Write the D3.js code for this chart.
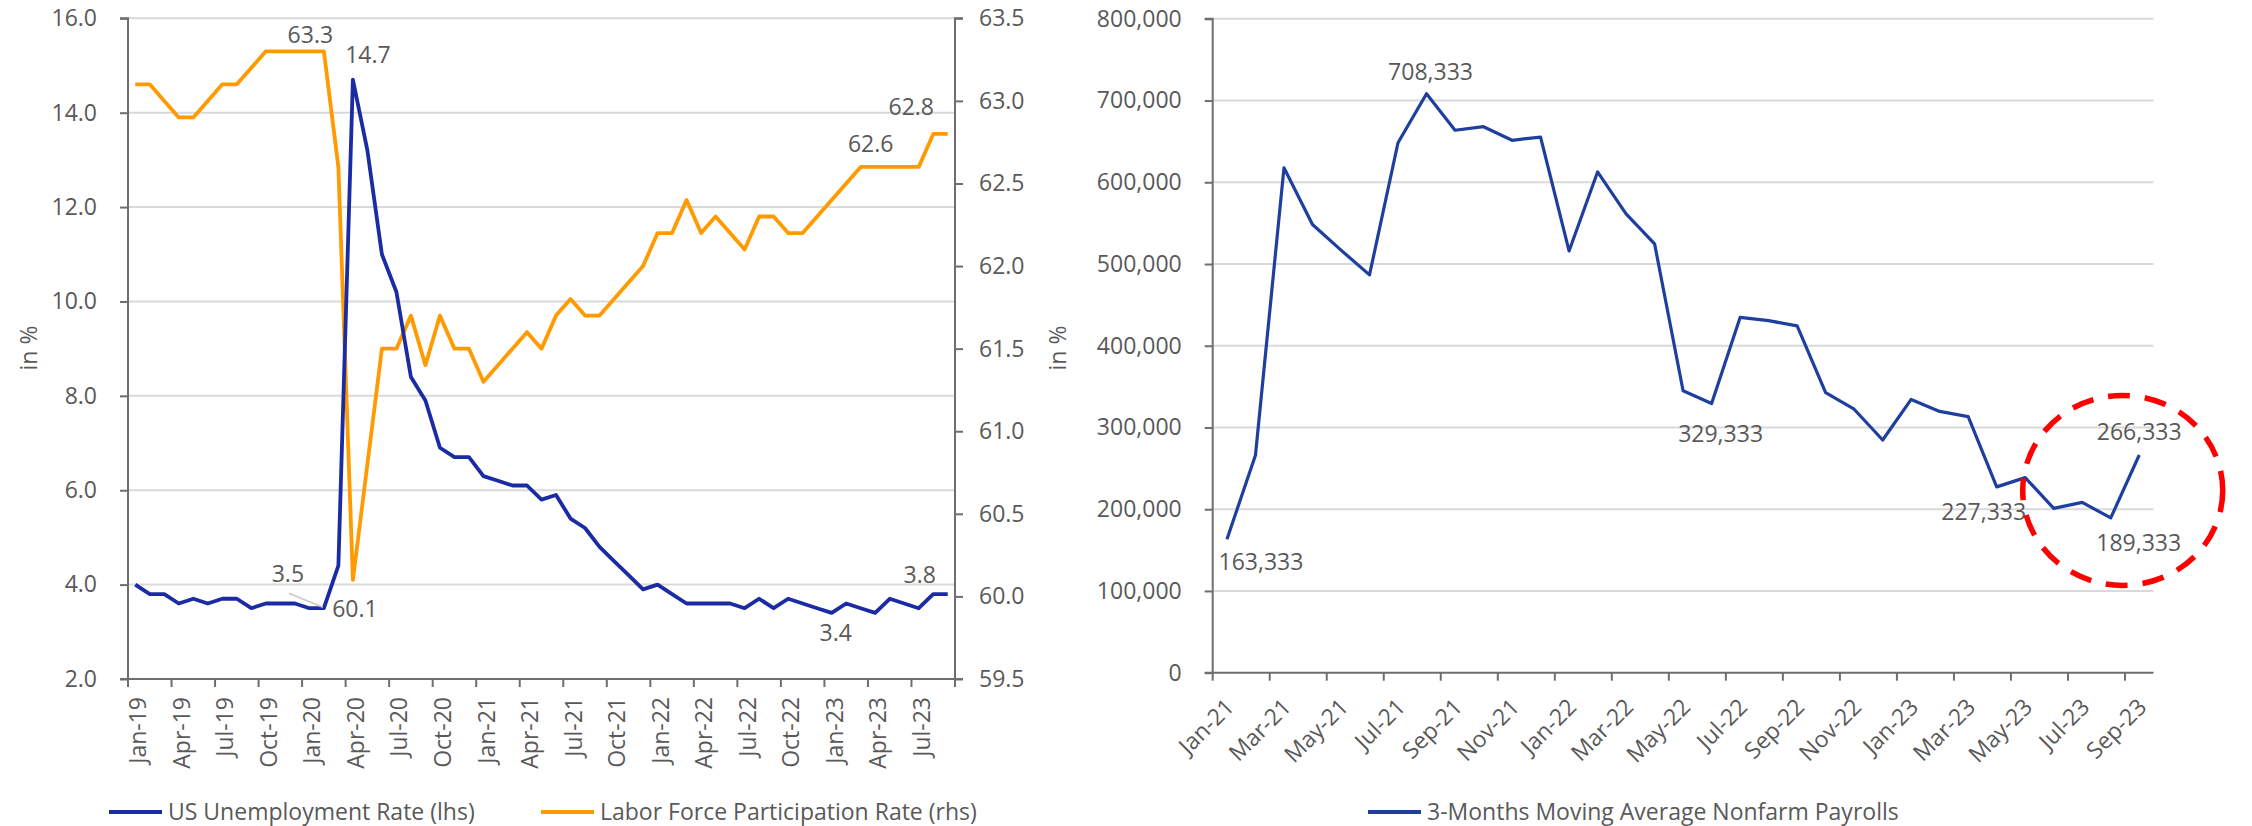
<!DOCTYPE html>
<html>
<head>
<meta charset="utf-8">
<script src="https://cdn.jsdelivr.net/npm/d3@7"></script>
<style>
  html, body { margin: 0; padding: 0; background: #fff; }
  svg { display: block; font-family: "Open Sans", "Noto Sans", sans-serif; }
  text { fill: #595959; }
</style>
</head>
<body>
<svg id="chart" width="2252" height="826"></svg>
<script>
// ---------- DATA ----------
const monthsLeft = [
  "Jan-19","Feb-19","Mar-19","Apr-19","May-19","Jun-19","Jul-19","Aug-19","Sep-19","Oct-19","Nov-19","Dec-19",
  "Jan-20","Feb-20","Mar-20","Apr-20","May-20","Jun-20","Jul-20","Aug-20","Sep-20","Oct-20","Nov-20","Dec-20",
  "Jan-21","Feb-21","Mar-21","Apr-21","May-21","Jun-21","Jul-21","Aug-21","Sep-21","Oct-21","Nov-21","Dec-21",
  "Jan-22","Feb-22","Mar-22","Apr-22","May-22","Jun-22","Jul-22","Aug-22","Sep-22","Oct-22","Nov-22","Dec-22",
  "Jan-23","Feb-23","Mar-23","Apr-23","May-23","Jun-23","Jul-23","Aug-23","Sep-23"
];
const unemployment = [
  4.0,3.8,3.8,3.6,3.7,3.6,3.7,3.7,3.5,3.6,3.6,3.6,
  3.5,3.5,4.4,14.7,13.2,11.0,10.2,8.4,7.9,6.9,6.7,6.7,
  6.3,6.2,6.1,6.1,5.8,5.9,5.4,5.2,4.8,4.5,4.2,3.9,
  4.0,3.8,3.6,3.6,3.6,3.6,3.5,3.7,3.5,3.7,3.6,3.5,
  3.4,3.6,3.5,3.4,3.7,3.6,3.5,3.8,3.8
];
const participation = [
  63.1,63.1,63.0,62.9,62.9,63.0,63.1,63.1,63.2,63.3,63.3,63.3,
  63.3,63.3,62.6,60.1,60.8,61.5,61.5,61.7,61.4,61.7,61.5,61.5,
  61.3,61.4,61.5,61.6,61.5,61.7,61.8,61.7,61.7,61.8,61.9,62.0,
  62.2,62.2,62.4,62.2,62.3,62.2,62.1,62.3,62.3,62.2,62.2,62.3,
  62.4,62.5,62.6,62.6,62.6,62.6,62.6,62.8,62.8
];
const leftTicks = [2,4,6,8,10,12,14,16];
const rightTicks = [59.5,60.0,60.5,61.0,61.5,62.0,62.5,63.0,63.5];

const monthsRight = [
  "Jan-21","Feb-21","Mar-21","Apr-21","May-21","Jun-21","Jul-21","Aug-21","Sep-21","Oct-21","Nov-21","Dec-21",
  "Jan-22","Feb-22","Mar-22","Apr-22","May-22","Jun-22","Jul-22","Aug-22","Sep-22","Oct-22","Nov-22","Dec-22",
  "Jan-23","Feb-23","Mar-23","Apr-23","May-23","Jun-23","Jul-23","Aug-23","Sep-23"
];
const payrolls = [
  163333,266000,617667,548333,517000,486667,648333,708333,663667,668000,651333,655333,
  516000,612667,561333,524667,345000,329333,434667,430667,424333,342667,322333,284667,
  334333,319667,313333,227333,238667,201000,208333,189333,266333
];
const payrollTicks = [0,100000,200000,300000,400000,500000,600000,700000,800000];

const leftLegend = ["US Unemployment Rate (lhs)", "Labor Force Participation Rate (rhs)"];
const rightLegend = ["3-Months Moving Average Nonfarm Payrolls"];

// ---------- STYLE ----------
const C = {
  navy: "#1b2ba3", orange: "#ff9a00", blue2: "#1f3f9f",
  grid: "#d9d9d9", axis: "#6e6e6e", text: "#595959", red: "#ff0000"
};
const FS = 23;

const svg = d3.select("#chart");
svg.append("rect").attr("width", 2252).attr("height", 826).attr("fill", "#fff");

// ================= LEFT CHART =================
const L = { x0: 128, x1: 955, top: 18.3, bottom: 679 };
const xL = d3.scaleBand().domain(d3.range(monthsLeft.length)).range([L.x0, L.x1]).padding(0);
const cxL = i => xL(i) + xL.bandwidth() / 2;
const yL = d3.scaleLinear().domain([2, 16]).range([L.bottom, L.top]);
const yR = d3.scaleLinear().domain([59.5, 63.5]).range([L.bottom, L.top]);

const gL = svg.append("g");
gL.selectAll(".grid").data(leftTicks.slice(1)).join("line")
  .attr("x1", L.x0).attr("x2", L.x1)
  .attr("y1", d => yL(d)).attr("y2", d => yL(d))
  .attr("stroke", C.grid).attr("stroke-width", 2);

const axL = gL.append("g").attr("transform", `translate(${L.x0},0)`)
  .call(d3.axisLeft(yL).tickValues(leftTicks).tickSize(8).tickPadding(23).tickFormat(d3.format(".1f")));
const axR = gL.append("g").attr("transform", `translate(${L.x1},0)`)
  .call(d3.axisRight(yR).tickValues(rightTicks).tickSize(8).tickPadding(16).tickFormat(d3.format(".1f")));
[axL, axR].forEach(a => {
  a.select(".domain").attr("stroke", C.axis).attr("stroke-width", 2).attr("d",
    `M${a === axL ? -8 : 8},${L.top}H0V${L.bottom}H${a === axL ? -8 : 8}`);
  a.selectAll(".tick line").attr("stroke", C.axis).attr("stroke-width", 2);
  a.selectAll(".tick text").attr("font-size", FS).attr("fill", C.text).attr("font-family", "Open Sans");
});

gL.append("line").attr("x1", L.x0).attr("x2", L.x1).attr("y1", L.bottom).attr("y2", L.bottom)
  .attr("stroke", C.axis).attr("stroke-width", 2);
const tickIdxL = d3.range(0, monthsLeft.length + 1, 3);
gL.selectAll(".xt").data(tickIdxL).join("line")
  .attr("x1", d => d < monthsLeft.length ? xL(d) : L.x1).attr("x2", d => d < monthsLeft.length ? xL(d) : L.x1)
  .attr("y1", L.bottom).attr("y2", L.bottom + 8)
  .attr("stroke", C.axis).attr("stroke-width", 2);
gL.selectAll(".xl").data(d3.range(0, monthsLeft.length, 3)).join("text")
  .attr("transform", d => `translate(${cxL(d) + 3},${L.bottom + 18}) rotate(-90)`)
  .attr("text-anchor", "end").attr("dy", "0.35em")
  .attr("font-size", FS).text(d => monthsLeft[d]);

gL.append("path").datum(participation)
  .attr("d", d3.line().x((d, i) => cxL(i)).y(d => yR(d)))
  .attr("fill", "none").attr("stroke", C.orange).attr("stroke-width", 3.8).attr("stroke-linejoin", "round");
gL.append("path").datum(unemployment)
  .attr("d", d3.line().x((d, i) => cxL(i)).y(d => yL(d)))
  .attr("fill", "none").attr("stroke", C.navy).attr("stroke-width", 3.8).attr("stroke-linejoin", "round");

const leftLabels = [
  { i: 12, s: "p", dx: 1, dy: -8 },
  { i: 15, s: "u", dx: 15, dy: -17 },
  { i: 13, s: "u", dx: -36, dy: -26 },
  { i: 15, s: "p", dx: 2, dy: 37 },
  { i: 48, s: "u", dx: 4, dy: 28 },
  { i: 56, s: "u", dx: -28, dy: -11 },
  { i: 50, s: "p", dx: 10, dy: -15 },
  { i: 55, s: "p", dx: -22, dy: -19 }
];
gL.append("line")
  .attr("x1", cxL(13) - 35).attr("y1", yL(unemployment[13]) - 15)
  .attr("x2", cxL(13) - 1).attr("y2", yL(unemployment[13]) - 1)
  .attr("stroke", "#c8c8c8").attr("stroke-width", 1.5);
gL.selectAll(".dl").data(leftLabels).join("text")
  .attr("x", d => cxL(d.i) + d.dx)
  .attr("y", d => (d.s === "u" ? yL(unemployment[d.i]) : yR(participation[d.i])) + d.dy)
  .attr("text-anchor", "middle").attr("font-size", FS)
  .text(d => d.s === "u" ? d3.format(".1f")(unemployment[d.i]) : d3.format(".1f")(participation[d.i]));

gL.append("text").attr("transform", `translate(29,348) rotate(-90)`)
  .attr("text-anchor", "middle").attr("dy", "0.35em").attr("font-size", FS).text("in %");

const legL = [
  { x: 109, color: C.navy, label: leftLegend[0] },
  { x: 541, color: C.orange, label: leftLegend[1] }
];
legL.forEach(d => {
  gL.append("line").attr("x1", d.x).attr("x2", d.x + 53).attr("y1", 812).attr("y2", 812)
    .attr("stroke", d.color).attr("stroke-width", 4);
  gL.append("text").attr("x", d.x + 59).attr("y", 812).attr("dy", "0.35em")
    .attr("font-size", FS).text(d.label);
});

// ================= RIGHT CHART =================
const R = { x0: 1212.7, x1: 2153.5, top: 18.8, bottom: 672.7 };
const xP = d3.scaleBand().domain(d3.range(monthsRight.length)).range([R.x0, R.x1]).padding(0);
const cxP = i => xP(i) + xP.bandwidth() / 2;
const yP = d3.scaleLinear().domain([0, 800000]).range([R.bottom, R.top]);

const gR = svg.append("g");
gR.selectAll(".grid").data(payrollTicks.slice(1)).join("line")
  .attr("x1", R.x0).attr("x2", R.x1)
  .attr("y1", d => yP(d)).attr("y2", d => yP(d))
  .attr("stroke", C.grid).attr("stroke-width", 2);

const axP = gR.append("g").attr("transform", `translate(${R.x0},0)`)
  .call(d3.axisLeft(yP).tickValues(payrollTicks).tickSize(8).tickPadding(23).tickFormat(d3.format(",")));
axP.select(".domain").attr("stroke", C.axis).attr("stroke-width", 2).attr("d", `M-8,${R.top}H0V${R.bottom}H-8`);
axP.selectAll(".tick line").attr("stroke", C.axis).attr("stroke-width", 2);
axP.selectAll(".tick text").attr("font-size", FS).attr("fill", C.text).attr("font-family", "Open Sans");

gR.append("line").attr("x1", R.x0).attr("x2", R.x1).attr("y1", R.bottom).attr("y2", R.bottom)
  .attr("stroke", C.axis).attr("stroke-width", 2);
gR.selectAll(".xt").data(d3.range(0, monthsRight.length, 2)).join("line")
  .attr("x1", d => xP(d)).attr("x2", d => xP(d))
  .attr("y1", R.bottom).attr("y2", R.bottom + 8)
  .attr("stroke", C.axis).attr("stroke-width", 2);
gR.selectAll(".xl").data(d3.range(0, monthsRight.length, 2)).join("text")
  .attr("transform", d => `translate(${cxP(d) + 3},${R.bottom + 30}) rotate(-45)`)
  .attr("text-anchor", "end").attr("dy", "0.35em")
  .attr("font-size", FS).text(d => monthsRight[d]);

gR.append("path").datum(payrolls)
  .attr("d", d3.line().x((d, i) => cxP(i)).y(d => yP(d)))
  .attr("fill", "none").attr("stroke", C.blue2).attr("stroke-width", 3.2).attr("stroke-linejoin", "round");

const rightLabels = [
  { i: 0, dx: 34, dy: 23 },
  { i: 7, dx: 4, dy: -22 },
  { i: 17, dx: 9, dy: 30 },
  { i: 27, dx: -13, dy: 25 },
  { i: 32, dx: 0, dy: -23 },
  { i: 31, dx: 28, dy: 25 }
];
gR.selectAll(".dl").data(rightLabels).join("text")
  .attr("x", d => cxP(d.i) + d.dx)
  .attr("y", d => yP(payrolls[d.i]) + d.dy)
  .attr("dy", "0.35em")
  .attr("text-anchor", "middle").attr("font-size", FS)
  .text(d => d3.format(",")(payrolls[d.i]));

// red dashed highlight circle around the latest months
gR.append("ellipse")
  .attr("cx", (cxP(30) + cxP(32)) / 2 + 12).attr("cy", yP(223000))
  .attr("rx", 100).attr("ry", 95)
  .attr("fill", "none").attr("stroke", C.red).attr("stroke-width", 5.5)
  .attr("stroke-dasharray", "22,15");

gR.append("text").attr("transform", `translate(1058,348) rotate(-90)`)
  .attr("text-anchor", "middle").attr("dy", "0.35em").attr("font-size", FS).text("in %");

gR.append("line").attr("x1", 1368).attr("x2", 1421).attr("y1", 812).attr("y2", 812)
  .attr("stroke", C.blue2).attr("stroke-width", 4);
gR.append("text").attr("x", 1427).attr("y", 812).attr("dy", "0.35em")
  .attr("font-size", FS).text(rightLegend[0]);
</script>
</body>
</html>
